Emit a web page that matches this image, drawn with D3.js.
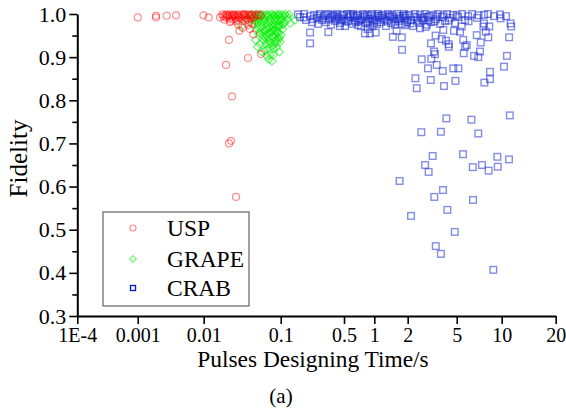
<!DOCTYPE html>
<html><head><meta charset="utf-8">
<script src="https://cdn.jsdelivr.net/npm/d3@7"></script>
<style>body{margin:0;background:#fff}svg{display:block}</style>
</head><body><svg id="c" width="566" height="416"></svg>
<script>
// ---------- data ----------
const xTickValues = [1e-4, 0.001, 0.01, 0.1, 0.5, 1, 2, 5, 10, 20];
const xTickLabels = ["1E-4", "0.001", "0.01", "0.1", "0.5", "1", "2", "5", "10", "20"];
const yTickValues = [0.3, 0.4, 0.5, 0.6, 0.7, 0.8, 0.9, 1.0];
const yMinorTicks = [0.35, 0.45, 0.55, 0.65, 0.75, 0.85, 0.95];
const seriesNames = ["USP", "GRAPE", "CRAB"];

const usp = [
 [0.001,0.992],[0.00189,0.996],[0.00189,0.992],[0.00275,0.996],[0.0038,0.997],[0.0099,0.997],[0.0116,0.992],[0.0163,0.992],
 [0.0175,0.999],[0.018,0.995],[0.019,0.998],[0.0195,0.992],[0.020,0.999],[0.021,0.996],[0.0215,0.990],[0.022,0.999],
 [0.023,0.994],[0.0235,0.998],[0.024,0.988],[0.025,0.999],[0.0255,0.995],[0.026,0.991],[0.027,0.998],[0.0275,0.986],
 [0.028,0.996],[0.029,0.999],[0.030,0.993],[0.031,0.989],[0.032,0.998],[0.033,0.995],[0.034,0.999],[0.035,0.991],
 [0.036,0.997],[0.037,0.987],[0.038,0.999],[0.039,0.994],[0.040,0.998],[0.042,0.996],[0.043,0.999],[0.045,0.993],
 [0.047,0.998],[0.050,0.996],[0.052,0.999],[0.055,0.997],[0.0185,0.987],[0.0225,0.984],[0.0265,0.983],[0.0205,0.995],
 [0.0245,0.997],[0.0285,0.992],[0.033,0.999],[0.041,0.990],[0.0345,0.985],[0.039,0.982],[0.0425,0.978],
 [0.0219,0.981],[0.0281,0.975],[0.029,0.961],[0.0399,0.965],[0.0441,0.953],[0.0379,0.975],[0.032,0.968],[0.0213,0.940],
 [0.0376,0.898],[0.0195,0.882],[0.0233,0.809],[0.0226,0.706],[0.0213,0.700],[0.0263,0.576],[0.0555,0.907]
];

const grape = [
 [0.042,0.999],[0.045,0.996],[0.048,0.999],[0.050,0.993],[0.053,0.998],[0.055,0.995],[0.058,0.999],[0.060,0.991],
 [0.063,0.997],[0.066,0.999],[0.068,0.994],[0.071,0.998],[0.074,0.990],[0.077,0.999],[0.080,0.995],[0.083,0.998],
 [0.086,0.992],[0.090,0.999],[0.093,0.996],[0.097,0.999],[0.100,0.993],[0.104,0.998],[0.108,0.995],[0.112,0.999],
 [0.118,0.996],[0.124,0.999],
 [0.046,0.985],[0.050,0.978],[0.054,0.986],[0.057,0.970],[0.060,0.980],[0.063,0.962],[0.066,0.975],[0.069,0.955],
 [0.072,0.968],[0.075,0.984],[0.078,0.948],[0.081,0.962],[0.084,0.975],[0.087,0.940],[0.090,0.958],[0.094,0.970],
 [0.098,0.985],[0.101,0.952],[0.105,0.965],[0.110,0.980],[0.127,0.978],[0.120,0.988],[0.144,0.986],
 [0.050,0.924],[0.054,0.930],[0.057,0.912],[0.062,0.915],[0.066,0.903],[0.070,0.930],[0.073,0.905],[0.077,0.891],
 [0.080,0.920],[0.084,0.932],[0.088,0.922],[0.092,0.945],[0.096,0.912],[0.063,0.945],[0.058,0.950],[0.068,0.938],
 [0.076,0.960],[0.085,0.953],[0.098,0.935],[0.044,0.975],[0.048,0.962],[0.053,0.955],[0.047,0.940],[0.031,0.971],[0.036,0.990],
 [0.044,0.990],[0.047,0.982],[0.051,0.988],[0.052,0.968],[0.055,0.960],[0.056,0.978],[0.059,0.940],[0.061,0.958],
 [0.062,0.985],[0.064,0.930],[0.065,0.950],[0.067,0.965],[0.069,0.920],[0.070,0.982],[0.071,0.945],[0.073,0.958],
 [0.074,0.935],[0.076,0.975],[0.078,0.925],[0.079,0.968],[0.080,0.905],[0.082,0.945],[0.083,0.985],[0.086,0.962],
 [0.088,0.972],[0.089,0.935],[0.091,0.985],[0.093,0.955],[0.095,0.975],[0.097,0.945],[0.100,0.975],[0.103,0.985],
 [0.106,0.975],[0.070,0.895]
];

const crab = [
 [0.155,0.999],[0.163,0.993],[0.181,1.0],[0.190,0.986],[0.211,0.995],[0.222,0.981],[0.233,0.998],[0.252,0.991],
 [0.258,0.977],[0.272,1.0],[0.286,0.986],[0.301,0.995],[0.316,0.981],[0.333,1.0],[0.350,0.991],[0.359,0.975],
 [0.378,0.998],[0.398,0.984],[0.419,1.0],[0.430,0.993],[0.452,0.979],[0.475,0.998],[0.500,0.988],[0.512,0.972],
 [0.536,1.0],[0.548,0.984],[0.574,0.995],[0.600,0.977],[0.614,1.0],[0.643,0.991],[0.658,0.981],[0.689,0.998],
 [0.721,0.986],[0.738,0.972],[0.773,1.0],[0.791,0.993],[0.828,0.979],[0.846,0.998],[0.885,0.988],[0.906,0.975],
 [0.948,1.0],[0.970,0.984],[1.015,0.995],[1.057,0.977],[1.080,1.0],[1.126,0.991],[1.149,0.981],[1.197,0.998],
 [1.249,0.986],[1.274,0.972],[1.328,1.0],[1.356,0.993],[1.414,0.979],[1.443,0.998],[1.504,0.988],[1.535,0.975],
 [1.600,1.0],[1.670,0.984],[1.70,0.995],[1.777,0.977],[1.852,1.0],[1.891,0.991],[1.971,0.981],[2.05,0.998],
 [2.13,0.986],[2.21,0.972],[2.29,1.0],[2.38,0.991],[2.47,0.979],[2.52,0.998],[2.66,0.986],[2.76,1.0],
 [2.87,0.975],[2.92,0.993],[3.09,0.981],[3.21,0.998],[3.39,0.988],[3.52,1.0],[3.66,0.977],[3.80,0.993],
 [4.02,0.984],[4.17,1.0],[4.41,0.991],[4.66,0.998],[4.84,0.979],[5.11,0.993],[5.43,1.0],[5.69,0.986],
 [5.96,0.995],[6.34,1.0],[6.84,0.991],[7.62,0.998],[8.11,1.0],[8.89,0.995],[9.75,0.999],[10.57,0.995],
 [0.26,0.996],[0.29,0.990],[0.37,0.994],[0.41,0.988],[0.47,0.985],[0.55,0.992],[0.62,0.996],[0.70,0.983],
 [0.80,0.996],[0.95,0.990],[1.05,0.986],[1.17,0.995],[1.30,0.983],[1.46,0.993],[1.62,0.988],[1.82,0.996],
 [2.0,0.985],[2.25,0.994],[2.6,0.990],[3.0,0.996],[3.3,0.983],
 [0.18,0.992],[0.23,0.988],[0.31,0.998],[0.34,0.987],[0.39,0.996],[0.44,0.990],[0.49,0.997],[0.53,0.982],
 [0.58,0.999],[0.64,0.985],[0.67,0.995],[0.75,0.990],[0.86,0.983],[0.92,0.997],[1.0,0.980],[1.1,0.996],
 [1.22,0.990],[1.38,0.996],[1.55,0.982],[1.72,0.990],[1.92,0.996],[2.1,0.978],[2.42,0.985],[2.7,0.993],
 [2.95,0.985],[3.45,0.994],[3.9,0.997],[4.3,0.985],[5.0,0.997],[6.0,0.983],[7.0,0.997],[0.96,0.972],
 [0.69,0.974],[0.45,0.972],[1.9,0.974],[2.8,0.970],
 [0.211,0.957],[0.211,0.932],[0.336,0.958],[0.808,0.955],[0.906,0.955],[1.03,0.957],[0.860,0.965],[1.59,0.961],
 [1.47,0.947],[1.77,0.946],[1.78,0.917],[2.52,0.967],[3.37,0.950],[3.09,0.932],[2.60,0.895],[3.27,0.913],
 [3.33,0.907],[3.11,0.896],[3.44,0.882],[2.92,0.874],[3.85,0.868],[3.78,0.942],[4.09,0.938],[4.31,0.930],
 [4.31,0.924],[3.89,0.963],[4.75,0.961],[5.40,0.971],[5.26,0.959],[5.53,0.940],[5.83,0.928],[5.69,0.924],
 [5.57,0.909],[6.53,0.903],[6.97,0.900],[7.16,0.913],[7.24,0.934],[6.81,0.951],[7.82,0.959],[8.13,0.946],
 [8.26,0.971],[7.54,0.971],[7.62,0.978],[9.84,0.990],[11.2,0.978],[11.3,0.971],[11.0,0.946],[10.7,0.903],
 [10.3,0.878],[8.35,0.866],[8.35,0.849],[7.66,0.841],[4.88,0.845],[4.69,0.874],[5.13,0.874],[2.31,0.851],
 [3.08,0.847],[3.94,0.833],[2.37,0.828],
 [4.12,0.758],[6.27,0.755],[11.1,0.765],[2.58,0.726],[3.72,0.727],[6.97,0.723],[3.19,0.671],[5.51,0.675],
 [9.35,0.669],[10.98,0.663],[2.77,0.650],[6.40,0.645],[7.38,0.650],[8.18,0.637],[9.41,0.646],[2.96,0.634],
 [1.69,0.613],[3.87,0.592],[3.29,0.576],[6.43,0.569],[4.20,0.546],[2.13,0.532],[4.82,0.495],[3.38,0.462],
 [3.72,0.444],[8.79,0.407]
];

// ---------- layout ----------
const W = 566, H = 416;
const plotL = 77.3, plotR = 555.7, plotT = 14, plotB = 316;
// relative position of each labelled x tick along the (custom-warped) axis
const xTickStops = [0, 0.1263, 0.2642, 0.4252, 0.5575, 0.6208, 0.6906, 0.7931, 0.8871, 1];

const xl = d3.scaleLinear()
  .domain(xTickValues.map(Math.log10))
  .range(xTickStops.map(f => plotL + f * (plotR - plotL)));
const x = v => xl(Math.log10(v));
const y = d3.scaleLinear().domain([0.3, 1.0]).range([plotB, plotT]);

const svg = d3.select("#c");
const FONT = "'Liberation Serif','Times New Roman',serif";

// ---------- points ----------
const gPts = svg.append("g");
gPts.append("g").selectAll("rect").data(crab).join("rect")
  .attr("x", d => x(d[0]) - 3.3).attr("y", d => y(d[1]) - 3.3)
  .attr("width", 6.6).attr("height", 6.6)
  .attr("fill", "none").attr("stroke", "#1f2fd0").attr("stroke-opacity", 0.55).attr("stroke-width", 1.4);
gPts.append("g").selectAll("path").data(grape).join("path")
  .attr("d", d3.symbol(d3.symbolSquare, 32)())
  .attr("transform", d => `translate(${x(d[0])},${y(d[1])}) rotate(45)`)
  .attr("fill", "none").attr("stroke", "#00ee00").attr("stroke-opacity", 0.55).attr("stroke-width", 1.2);
gPts.append("g").selectAll("circle").data(usp).join("circle")
  .attr("cx", d => x(d[0])).attr("cy", d => y(d[1])).attr("r", 3.5)
  .attr("fill", "none").attr("stroke", "#ff0000").attr("stroke-opacity", 0.45).attr("stroke-width", 1.2);

// ---------- axes ----------
const xAxis = d3.axisBottom(xl).tickValues(xTickValues.map(Math.log10))
  .tickFormat((d, i) => xTickLabels[i]).tickSize(8).tickSizeOuter(0).tickPadding(4);
const gx = svg.append("g").attr("transform", `translate(0,${plotB})`).call(xAxis);
gx.select(".domain").attr("stroke-width", 2).attr("stroke", "#000");
gx.selectAll(".tick line").attr("stroke-width", 1.6).attr("stroke", "#000");
gx.selectAll(".tick text").attr("font-family", FONT).attr("font-size", 20).attr("fill", "#000");

const yAxis = d3.axisLeft(y).tickValues(yTickValues).tickFormat(d3.format(".1f"))
  .tickSize(8).tickSizeOuter(0).tickPadding(3);
const gy = svg.append("g").attr("transform", `translate(${plotL},0)`).call(yAxis);
gy.select(".domain").attr("stroke-width", 2).attr("stroke", "#000");
gy.selectAll(".tick line").attr("stroke-width", 1.6).attr("stroke", "#000");
gy.selectAll(".tick text").attr("font-family", FONT).attr("font-size", 22).attr("fill", "#000");

const yMinor = d3.axisLeft(y).tickValues(yMinorTicks).tickFormat("").tickSize(5).tickSizeOuter(0);
const gym = svg.append("g").attr("transform", `translate(${plotL},0)`).call(yMinor);
gym.select(".domain").remove();
gym.selectAll(".tick line").attr("stroke-width", 1.6).attr("stroke", "#000");

// ---------- titles ----------
svg.append("text").attr("x", 313).attr("y", 367).attr("text-anchor", "middle")
  .attr("font-family", FONT).attr("font-size", 23.4).text("Pulses Designing Time/s");
svg.append("text").attr("transform", "translate(27,158.5) rotate(-90)").attr("text-anchor", "middle")
  .attr("font-family", FONT).attr("font-size", 25).text("Fidelity");
svg.append("text").attr("x", 281).attr("y", 403).attr("text-anchor", "middle")
  .attr("font-family", FONT).attr("font-size", 21).text("(a)");

// ---------- legend ----------
const lg = svg.append("g");
lg.append("rect").attr("x", 103).attr("y", 212).attr("width", 146).attr("height", 94)
  .attr("fill", "#fff").attr("stroke", "#444").attr("stroke-width", 1);
const rowY = [228, 259, 288];
lg.append("circle").attr("cx", 133).attr("cy", rowY[0]).attr("r", 3)
  .attr("fill", "none").attr("stroke", "#ff0000").attr("stroke-opacity", 0.45).attr("stroke-width", 1.2);
lg.append("path").attr("d", d3.symbol(d3.symbolSquare, 22)())
  .attr("transform", `translate(133,${rowY[1]}) rotate(45)`)
  .attr("fill", "none").attr("stroke", "#00ee00").attr("stroke-opacity", 0.55).attr("stroke-width", 1.2);
lg.append("rect").attr("x", 130.5).attr("y", rowY[2] - 2.5).attr("width", 5).attr("height", 5)
  .attr("fill", "none").attr("stroke", "#1020c0").attr("stroke-width", 1.4);
lg.selectAll("text.lab").data(seriesNames).join("text").attr("class", "lab")
  .attr("x", 167).attr("y", (d, i) => rowY[i] + 8)
  .attr("font-family", FONT).attr("font-size", 23.5).text(d => d);
</script>
</body></html>
